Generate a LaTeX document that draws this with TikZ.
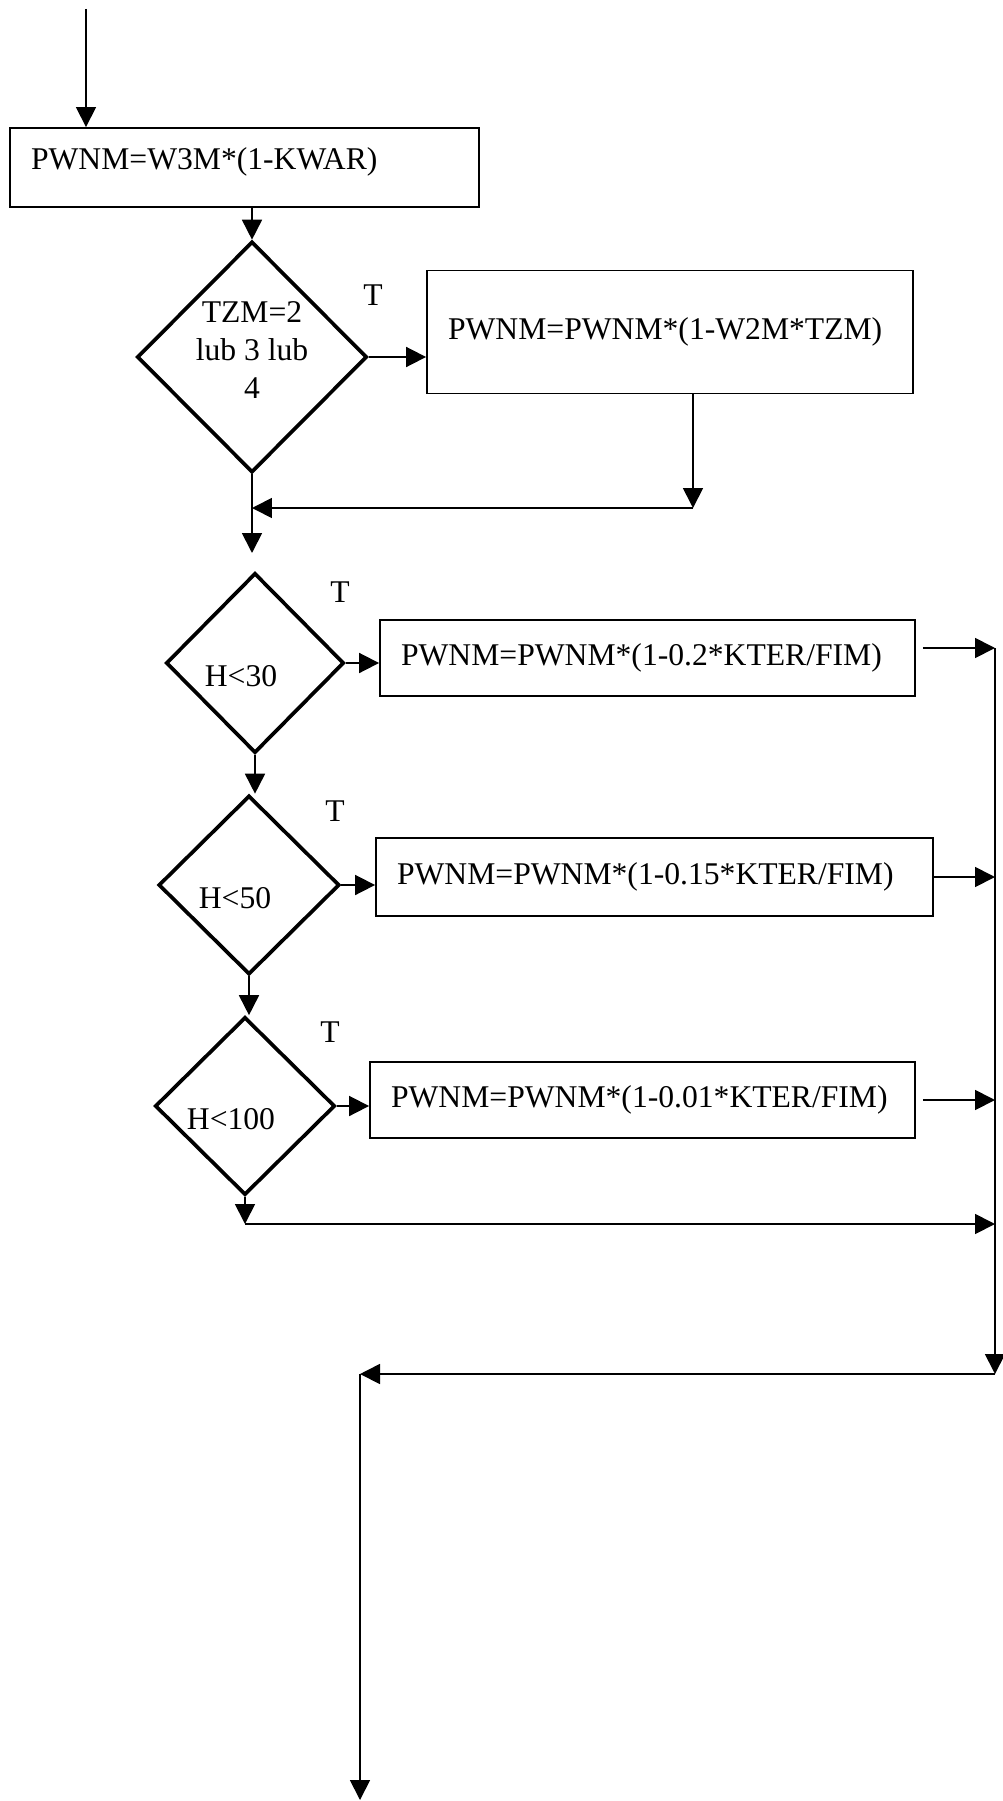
\documentclass[tikz,border=0pt]{standalone}
\usepackage{fontspec}
\setmainfont{Liberation Serif}
\usetikzlibrary{arrows.meta, shapes.geometric}

\tikzset{
  every node/.style={font=\fontsize{18}{21.6}\selectfont},
  proc/.style={draw, line width=1.1pt, rectangle, align=left, inner xsep=0.42cm, inner ysep=0pt},
  decision/.style={draw, line width=2.1pt, diamond, aspect=1, inner sep=0pt, align=center},
  cond/.style={label={[xshift=-0.28cm, yshift=-0.27cm]center:#1}},
  conn/.style={line width=1pt, -{Triangle[length=0.4cm, width=0.4cm]}},
}

\begin{document}
\begin{tikzpicture}[x=0.02cm, y=-0.02cm]
  \useasboundingbox (0,0) rectangle (1003,1801);

  % boxes
  \node (b1) [proc, text width=8.54cm, text height=0.44cm, text depth=0.34cm, minimum height=1.58cm] at (244.5,167.5) {PWNM=W3M*(1-KWAR)};
  \node (b2) [proc, text width=8.88cm, minimum height=2.46cm] at (670,332) {PWNM=PWNM*(1-W2M*TZM)};
  \node (b3) [proc, text width=9.86cm, minimum height=1.52cm] at (647.5,658) {PWNM=PWNM*(1-0.2*KTER/FIM)};
  \node (b4) [proc, text width=10.3cm, minimum height=1.56cm] at (654.5,877) {PWNM=PWNM*(1-0.15*KTER/FIM)};
  \node (b5) [proc, text width=10.06cm, minimum height=1.52cm] at (642.5,1100) {PWNM=PWNM*(1-0.01*KTER/FIM)};

  % decisions
  \node (d1) [decision, minimum width=4.6cm, minimum height=4.62cm,
    label={[align=center, yshift=0.14cm]center:TZM=2\\lub 3 lub\\4}] at (252,357) {};
  \node (d2) [decision, minimum width=3.56cm, minimum height=3.6cm, cond=H<30] at (255,663) {};
  \node (d3) [decision, minimum width=3.62cm, minimum height=3.58cm, cond=H<50] at (249,885) {};
  \node (d4) [decision, minimum width=3.6cm, minimum height=3.56cm, cond=H<100] at (245,1106) {};

  \node (t1) at (373,295) {T};
  \node (t2) at (340,592) {T};
  \node (t3) at (335,811) {T};
  \node (t4) at (330,1032) {T};

  % free ends
  \coordinate (in) at (86,9);
  \coordinate (m1) at (693,508);
  \coordinate (m2) at (252,553);
  \coordinate (m3) at (243,1224);
  \coordinate (v1) at (995,648);
  \coordinate (v2) at (995,1374);
  \coordinate (v3) at (360,1374);
  \coordinate (out) at (360,1800);

  \draw[conn] (in) -- (in |- b1.north);
  \draw[conn] (d1.north |- b1.south) -- (d1.north);
  \draw[conn] (d1.east) -- (d1.east -| b2.west);
  \draw[conn] (b2.south -| m1) -- (m1);
  \draw[conn] (m1) -- (m1 -| d1.south);
  \draw[conn] (d1.south) -- (m2);

  \draw[conn] (d2.east) -- (d2.east -| b3.west);
  \draw[conn] (d2.south) -- (d2.south |- d3.north);
  \draw[conn] (d3.east) -- (d3.east -| b4.west);
  \draw[conn] (d3.south) -- (d3.south |- d4.north);
  \draw[conn] (d4.east) -- (d4.east -| b5.west);
  \draw[conn] (d4.south) -- (d4.south |- m3);
  \draw[conn] (d4.south |- m3) -- (m3 -| v1);

  \draw[conn, shorten <=0.14cm] (b3.east |- v1) -- (v1);
  \draw[conn] (b4.east) -- (b4.east -| v1);
  \draw[conn, shorten <=0.14cm] (b5.east) -- (b5.east -| v1);
  \draw[conn] (v1) -- (v2);
  \draw[conn] (v2) -- (v3);
  \draw[conn] (v3) -- (out);
\end{tikzpicture}
\end{document}
